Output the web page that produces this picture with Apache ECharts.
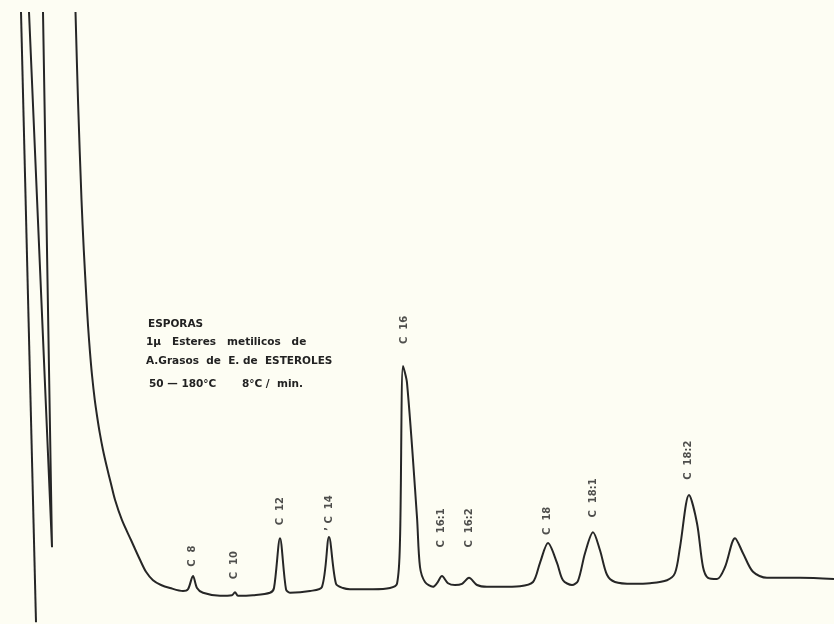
<!DOCTYPE html>
<html><head><meta charset="utf-8">
<script src="https://cdn.jsdelivr.net/npm/echarts@6/dist/echarts.min.js"></script>
<style>html,body{margin:0;padding:0;background:#fdfdf3;}#c{width:834px;height:624px;}</style>
</head><body><div id="c"></div>
<script>
// Chromatogram trace: [retention time (min), detector signal]
const traceTime = [3.775,3.9,4.075,4.19,4.325,4.4,4.49,4.6,4.74,4.86,4.99,5.15,5.34,5.54,5.75,6.1,6.55,7.0,7.3,7.65,8.05,8.5,9.15,9.4,9.65,9.85,10.15,11.0,11.6,11.75,11.9,12.65,13.5,13.7,14.0,14.3,14.5,15.5,16.1,16.45,16.8,17.15,17.5,18.65,19.5,19.85,20.0,20.15,20.35,20.85,21.0,21.25,21.65,21.85,22.1,22.4,22.75,23.1,23.45,23.85,24.35,25.0,26.0,26.65,27.0,27.4,27.85,28.15,28.6,28.9,29.25,29.65,30.0,30.35,30.75,31.65,32.5,33.35,33.75,34.0,34.45,34.85,35.15,35.4,35.85,36.25,36.75,37.15,37.65,38.35,40.0,41.7];
const traceSignal = [98.0,83.3,66.7,58.3,50.0,45.8,41.7,37.5,33.3,30.5,27.8,25.0,22.2,19.5,16.7,13.3,10.0,6.7,4.7,3.3,2.5,2.0,1.5,1.8,4.0,2.0,1.2,0.7,0.8,1.3,0.7,0.8,1.2,2.0,10.3,1.8,1.2,1.5,2.2,10.5,2.7,2.0,1.8,1.8,2.0,2.7,10.0,39.0,36.2,13.8,5.5,3.0,2.2,2.8,4.0,2.8,2.5,2.7,3.7,2.5,2.2,2.2,2.3,3.0,6.2,9.5,6.2,3.3,2.5,3.2,7.8,11.3,8.3,4.2,3.0,2.7,2.8,3.3,4.5,8.8,17.5,12.8,5.5,3.7,3.5,5.5,10.3,7.8,4.7,3.7,3.7,3.5];
// Injection pen excursions (off-scale)
const spikeATime = [1.05, 1.8];
const spikeASignal = [98.0, -3.7];
const spikeBTime = [1.45, 2.6, 2.15];
const spikeBSignal = [98.0, 8.8, 98.0];
// Peak labels
const peakNames = ['C  8','C  10','C  12','\u2019 C  14','C  16','C  16:1','C  16:2','C  18','C  18:1','C  18:2'];
const labelTime = [9.6,11.7,14.0,16.45,20.2,22.05,23.45,27.35,29.65,34.4];
const labelSignal = [7.3,5.8,14.8,14.5,45.0,12.0,12.0,13.2,17.0,23.3];
// Annotation text
const infoLines = ['ESPORAS','1\u03bc   Esteres   metilicos   de','A.Grasos  de  E. de  ESTEROLES','50 \u2014 180\u00b0C       8\u00b0C /  min.'];

const zip = (a,b) => a.map((v,i)=>[v,b[i]]);
const lineColor = '#262626';
const chart = echarts.init(document.getElementById('c'));
chart.setOption({
  backgroundColor: '#fdfdf3',
  animation: false,
  grid: {left:0,right:0,top:0,bottom:0},
  xAxis: {type:'value',min:0,max:41.7,show:false},
  yAxis: {type:'value',min:-4,max:100,show:false},
  series: [
    {type:'line',data:zip(traceTime,traceSignal),symbol:'none',smooth:0.3,lineStyle:{color:lineColor,width:2}},
    {type:'line',data:zip(spikeATime,spikeASignal),symbol:'none',lineStyle:{color:lineColor,width:2}},
    {type:'line',data:zip(spikeBTime,spikeBSignal),symbol:'none',lineStyle:{color:lineColor,width:2}},
    {type:'scatter',data:labelTime.map((t,i)=>[t,labelSignal[i],peakNames[i]]),symbolSize:0,
      label:{show:true,position:'inside',rotate:90,formatter:p=>p.data[2],color:'#222',fontFamily:'DejaVu Sans',fontWeight:'bold',fontSize:10,align:'center',verticalAlign:'middle'}}
  ],
  graphic: infoLines.map((t,i)=>({type:'text',left:[148,146,146,149][i],top:[319,337,356,379][i],
    style:{text:t,fill:'#222',font:'bold 10.5px "DejaVu Sans"'}}))
});
</script></body></html>
